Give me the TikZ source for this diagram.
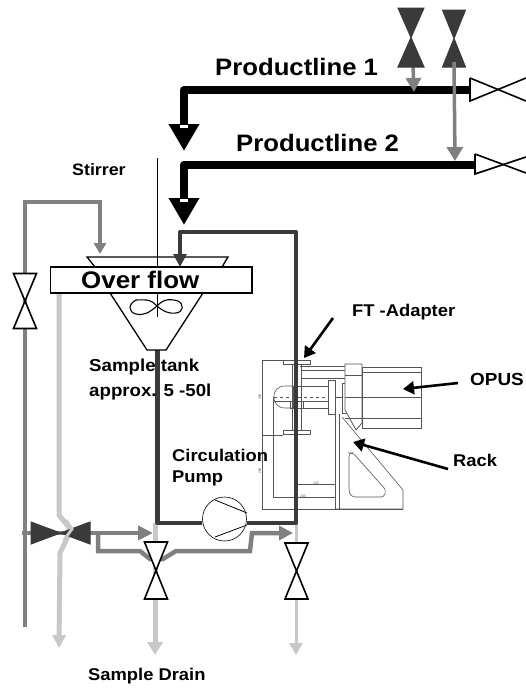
\documentclass[tikz,border=0pt]{standalone}
\usepackage{fontspec}
\setmainfont{Liberation Sans}
\newfontfamily\labfont[FakeStretch=1.08]{Liberation Sans Bold}
\usetikzlibrary{arrows.meta}
\definecolor{pipedark}{HTML}{3A3A3A}
\definecolor{pipemid}{HTML}{808080}
\definecolor{pipelight}{HTML}{C8C8C8}
\definecolor{drawgray}{HTML}{555555}
\tikzset{
  lab/.style={font=\labfont\fontsize{#1}{#1}\selectfont,inner sep=0pt,anchor=west,text=black},
  lab/.default=16,
  pipeblack/.style={draw=black,line width=8.5pt,line join=round},
  pipedk/.style={draw=pipedark,line width=4.5pt,line join=round},
  pipelt/.style={draw=pipelight,line width=5pt,line join=miter},
  valveopen/.style={draw=black,line width=1.6pt,fill=white,line join=miter},
  valvedark/.style={draw=pipedark,line width=1pt,fill=pipedark},
  tech/.style={draw=drawgray,line width=.6pt},
  dimline/.style={draw=drawgray,line width=.45pt},
  callout/.style={draw=black,line width=2.6pt,-{Triangle[length=11pt,width=13pt]}},
  tanksh/.style={draw=black,line width=1.3pt},
  whitebar/.style={fill=white,draw=none},
  tiny lab/.style={font=\fontsize{3.5}{3.5}\selectfont,inner sep=0pt,text=drawgray},
}
% valve drawn as an hourglass: name, x, y, half width, half height, style
\newcommand{\vvalve}[6]{%
  \coordinate (#1) at (#2,#3);
  \path[#6] ([shift={(-#4,-#5)}]#1) -- ([shift={(#4,-#5)}]#1) -- ([shift={(-#4,#5)}]#1) -- ([shift={(#4,#5)}]#1) -- cycle;
}
\begin{document}
\begin{tikzpicture}[x=1pt,y=-1pt]
\useasboundingbox (0,0) rectangle (526,688);

% ---- junctions
\coordinate (p1start) at (470,90);
\coordinate (p1corner) at (184,90);
\coordinate (p1tip) at (184,151);
\coordinate (p2start) at (476,165);
\coordinate (p2corner) at (184,165);
\coordinate (p2tip) at (184,225);
\coordinate (tankout) at (157.5,350);
\coordinate (loopBL) at (157.5,523);
\coordinate (loopBR) at (296,523);
\coordinate (loopTR) at (296,232);
\coordinate (loopTL) at (180,232);
\coordinate (looptip) at (180,267);
\coordinate (grB) at (25,627);
\coordinate (grTR) at (100,202);
\coordinate (grtip) at (100,254);

% ---- light gray drains (lowest layer)
\draw[pipelt,-{Triangle[length=13pt,width=13pt]}] (59,293) -- (59,515) -- (71,530) -- (60,553) -- (59,648);
\draw[pipelt,-{Triangle[length=13pt,width=15pt]}] (155,523) -- (155,655);
\draw[draw=pipelight,line width=3pt,-{Triangle[length=12pt,width=13pt]}] (296,523) -- (296,655);

% ---- gray feed
\draw[draw=pipemid,line width=4.8pt,-{Triangle[length=11pt,width=12pt]}] (grB) -- (25,202) -- (grTR) -- (grtip);

% ---- product lines
\draw[pipeblack,-{Triangle[length=27pt,width=29pt]}] (p1start) -- (p1corner) -- (p1tip);
\draw[pipeblack,-{Triangle[length=27pt,width=29pt]}] (p2start) -- (p2corner) -- (p2tip);
\fill[whitebar] (180,125) rectangle (188,128);
\fill[whitebar] (180,199) rectangle (188,202);

% ---- top valves and their feeds
\draw[draw=pipemid,line width=3.5pt,-{Triangle[length=14pt,width=15pt]}] (413,66) -- (414,92);
\vvalve{vtop1}{411}{37.5}{13}{29.5}{valvedark}
\vvalve{vtop2}{454}{38.5}{11.5}{28.5}{valvedark}
\draw[draw=pipemid,line width=3.5pt,-{Triangle[length=14pt,width=16pt]}] (454,62) -- (455,161);

% ---- right-hand product valves
\draw[valveopen] (470,78) -- (470,101) -- (526,78);
\draw[valveopen] (470,78) -- (526,101);
\draw[valveopen] (475,154) -- (475,174) -- (526,157);
\draw[valveopen] (475,154) -- (526,173);

% ---- instrument drawing
\draw[dimline] (283,360) -- (262,360) -- (262,509) -- (403,509);
\draw[dimline] (262,435) -- (283,435);
\draw[dimline] (273,397) -- (273,497) -- (335,497);
\draw[dimline] (296,484) -- (335,484);
\node[tiny lab] (dimA) at (316,483) {155};
\node[tiny lab] (dimB) at (303,496) {203};
\node[tiny lab,rotate=90] (dimC) at (260,397) {350};
\node[tiny lab,rotate=90] (dimD) at (260,471) {295};
\draw[tech,fill=white] (283,360) rectangle (310,364);
\draw[tech,fill=white] (283,430) rectangle (310,434);
\draw[tech] (292,364) -- (292,430) (301,364) -- (301,430);
\draw[tech] (293,386) -- (285,386) .. controls (270,386) and (270,408) .. (285,408) -- (293,408);
\draw[tech] (293,386) rectangle (328,408);
\draw[tech,dashed] (274,397) -- (328,397);
\draw[tech] (274,401) -- (328,401);
\draw[tech] (290,401) rectangle (303,408);
\draw[tech,fill=white] (328,380) rectangle (335,414);
\draw[tech] (335,397) -- (342,397);
\draw[tech] (342,383) rectangle (346,413);
\draw[tech] (301,370) -- (345,370) (301,378) -- (345,378) (300,366) -- (345,366);
\draw[tech,line width=.8pt,fill=white] (345,364) -- (362,364) -- (362,423) -- (356,430) -- (345,410) -- cycle;
\draw[tech,line width=.8pt,fill=white] (362,367) rectangle (421.5,428);
\draw[tech] (362,397) -- (421.5,397) (362,418) -- (421.5,418) (362,372) -- (421.5,372);
\draw[tech] (345,375) -- (362,375) (345,397) -- (362,397) (345,418) -- (362,418);
\draw[tech] (335,414) -- (335,509) (339,414) -- (339,509);
\draw[tech] (342,417) -- (403,490) -- (403,509) -- (335,509);
\draw[tech,rounded corners=3pt] (349,453) -- (353,453) -- (386,490) -- (384,497) -- (352,497) -- (349,492) -- cycle;

% ---- circulation loop
\draw[pipedk] (tankout) -- (loopBL) -- (202,523);
\draw[pipedk] (247,523) -- (loopBR) -- (loopTR) -- (loopTL) -- (180,250);

% ---- tank
\draw[tanksh,fill=white] (87,257) -- (228,257) -- (222,267) -- (95,267) -- cycle;
\draw[pipedk,-{Triangle[length=13pt,width=13pt]}] (180,245) -- (looptip);
\draw[tanksh,fill=white] (110,293) -- (203,293) -- (166,350) -- (147,350) -- cycle;
\draw[line width=1pt] (157,158) -- (157,317);
\draw[tanksh,fill=white,line width=1.6pt] (50.5,267) rectangle (252,293);
\draw[line width=1.1pt] (157,306) .. controls (150,298) and (143,300) .. (136,300) .. controls (128,304) and (128,312) .. (136,314) .. controls (144,316) and (150,312) .. (157,306)
  .. controls (164,298) and (172,299) .. (178,301) .. controls (184,304) and (184,312) .. (176,313) .. controls (168,314) and (163,311) .. (157,306);

% ---- left valve
\vvalve{vleft}{25}{301}{11.5}{27.5}{valveopen}

% ---- bottom gray flush lines and valves
\draw[draw=pipemid,line width=4.8pt] (22,533) -- (90,533);
\draw[draw=pipemid,line width=4.8pt,-{Triangle[length=15pt,width=14pt]}] (90,533) -- (153,533);
\draw[draw=pipemid,line width=4.5pt,line join=miter,-{Triangle[length=14pt,width=14pt]}] (98,533) -- (98,551) -- (140,551) -- (150,559) -- (163,559) -- (176,551) -- (250,551) -- (252,533) -- (293,533);
\path[valvedark] (31,522) -- (90,544) -- (90,522) -- (31,544) -- cycle;
\draw[draw=pipelight,line width=3pt] (66,520) -- (72,529) -- (64,540);
\vvalve{vdrain}{156}{570.5}{11.5}{28.5}{valveopen}
\vvalve{vright}{296.5}{571}{11.5}{28}{valveopen}

% ---- pump
\coordinate (pumpc) at (224.5,519);
\draw[line width=.6pt,fill=white] (pumpc) circle[radius=22pt];
\draw[line width=.8pt] (215,500) -- (247,513) (215,537) -- (247,525);

% ---- labels
\node[lab=23.8] (pl1) at (215,67) {Productline 1};
\node[lab=23.8] (pl2) at (236,143) {Productline 2};
\node[lab=16.5] (stirrer) at (72,170) {Stirrer};
\node[lab=24] (over) at (81,280) {Over flow};
\node[lab=17.3] (tanka) at (89,367) {Sample tank};
\node[lab=17.3] (tankb) at (89,392) {approx. 5 -50l};
\node[lab=17] (circa) at (172,455) {Circulation};
\node[lab=17] (circb) at (172,478) {Pump};
\node[lab=17] (ft) at (352,312) {FT -Adapter};
\node[lab=17.5] (opus) at (470,379) {OPUS};
\node[lab=17] (rack) at (453,460) {Rack};
\node[lab=17] (drain) at (88,676) {Sample Drain};

% ---- callouts
\coordinate (ftA) at (333,318);
\coordinate (ftB) at (304,358);
\coordinate (opA) at (458,383);
\coordinate (opB) at (403,389);
\coordinate (rkA) at (448,469);
\coordinate (rkB) at (353,442);
\draw[callout] (ftA) -- (ftB);
\draw[callout] (opA) -- (opB);
\draw[callout] (rkA) -- (rkB);
\end{tikzpicture}
\end{document}
